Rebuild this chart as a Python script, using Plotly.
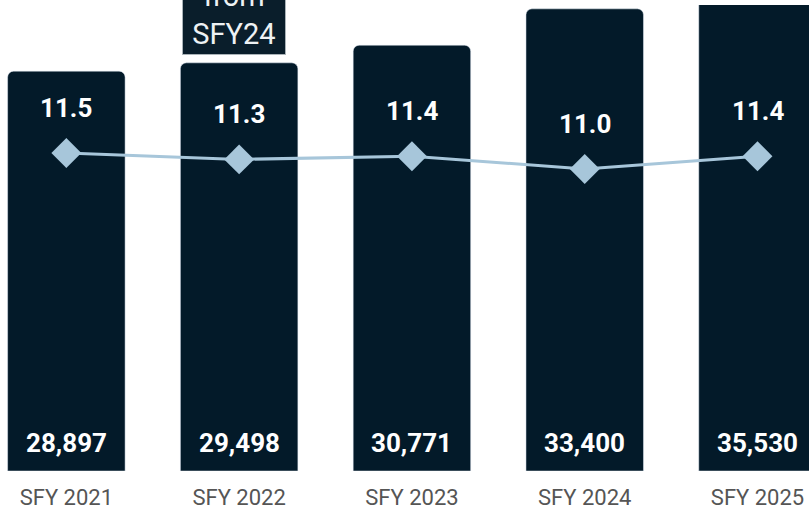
import plotly.graph_objects as go

# Data
years = ['SFY 2021', 'SFY 2022', 'SFY 2023', 'SFY 2024', 'SFY 2025']
totals = [28897, 29498, 30771, 33400, 35530]
rates = [11.5, 11.3, 11.4, 11.0, 11.4]

BAR_COLOR = '#031a29'
LINE_COLOR = '#a7c6da'
FONT = 'Roboto'

fig = go.Figure()

fig.add_trace(go.Bar(
    x=years,
    y=totals,
    marker=dict(color=BAR_COLOR, cornerradius=6),
    width=0.68,
    hoverinfo='x+y'
))

fig.add_trace(go.Scatter(
    x=years,
    y=rates,
    yaxis='y2',
    mode='lines+markers',
    line=dict(color=LINE_COLOR, width=3),
    marker=dict(symbol='diamond', size=23, color=LINE_COLOR),
    hoverinfo='x+y'
))

annotations = []
# counts at the base of each bar
for yr, v in zip(years, totals):
    annotations.append(dict(
        x=yr, y=0, xref='x', yref='y', text=f'<b>{v:,}</b>',
        showarrow=False, yanchor='middle', yshift=28,
        font=dict(family=FONT, size=26, color='white')
    ))
# rate labels above the diamonds
for yr, r in zip(years, rates):
    annotations.append(dict(
        x=yr, y=r, xref='x', yref='y2', text=f'<b>{r:.1f}</b>',
        showarrow=False, yanchor='middle', yshift=45,
        font=dict(family=FONT, size=26, color='white')
    ))
# callout box (cut off at the top of the image)
annotations.append(dict(
    x=years[1], y=0.893, xref='x', yref='paper', xshift=-5,
    text='from<br>SFY24', showarrow=False, yanchor='bottom',
    font=dict(family=FONT, size=29, color='#eef2f4'),
    bgcolor='#0a1e2b', bordercolor='#aab3b8', borderwidth=1, borderpad=3,
    width=96
))

fig.update_layout(
    width=809, height=510,
    margin=dict(l=0, r=0, t=5, b=39),
    paper_bgcolor='white',
    plot_bgcolor='white',
    showlegend=False,
    font=dict(family=FONT),
    annotations=annotations,
    xaxis=dict(
        range=[-0.384, 4.298],
        showgrid=False, showline=False, zeroline=False,
        tickfont=dict(family=FONT, size=22, color='#555555'),
        ticklabelstandoff=11
    ),
    yaxis=dict(range=[0, 33678], visible=False, showgrid=False),
    yaxis2=dict(range=[1.5625, 16.125], overlaying='y', visible=False, showgrid=False)
)

# drop the default page margin so the figure sits at the window's corner
fig.write_html("out.html", config={'displayModeBar': False},
               post_script="document.body.style.margin='0';")
